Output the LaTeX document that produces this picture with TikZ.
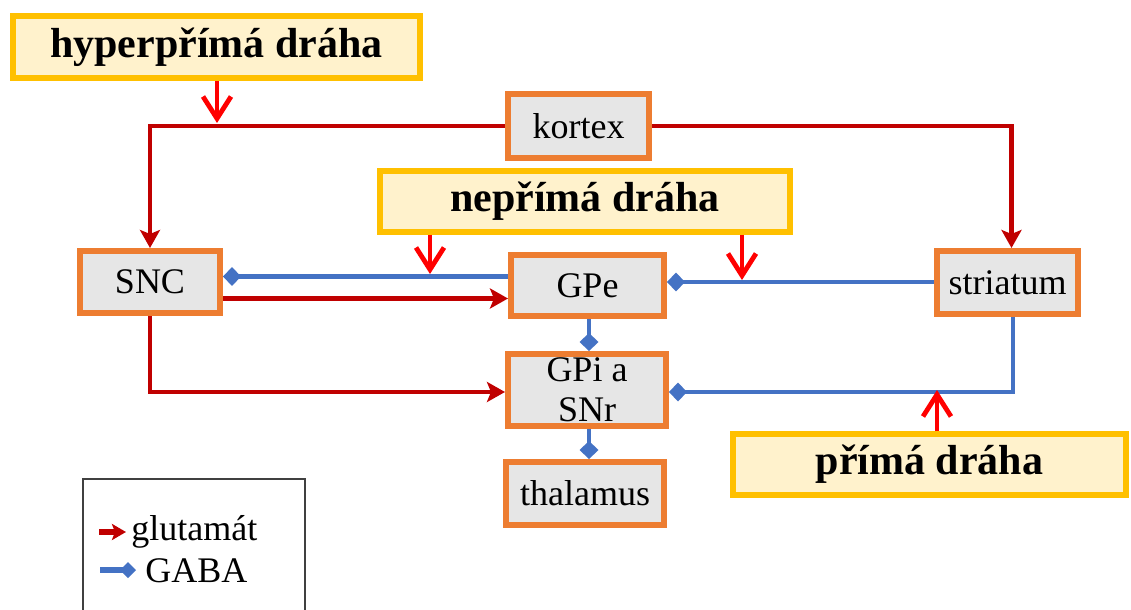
\documentclass[tikz,border=0pt]{standalone}
\usepackage{fontspec}
\setmainfont{Liberation Serif}
\usetikzlibrary{arrows.meta}
\definecolor{oranz}{HTML}{ED7D31}
\definecolor{sedy}{HTML}{E6E6E6}
\definecolor{zluty}{HTML}{FFC000}
\definecolor{krem}{HTML}{FFF2CC}
\definecolor{tmcerv}{HTML}{C00000}
\definecolor{cerv}{HTML}{FF0000}
\definecolor{modry}{HTML}{4472C4}
\newcommand{\telo}{\fontsize{18}{20}\selectfont}
\newcommand{\nadpis}{\bfseries\fontsize{21}{24}\selectfont}
\tikzset{
    oblast/.style={draw=oranz, fill=sedy, line width=3pt, inner sep=0pt, align=center, font=\telo},
    draha/.style={draw=zluty, fill=krem, line width=3pt, inner sep=0pt, font=\nadpis},
    glu/.style={draw=tmcerv, line width=2.4pt, -{Stealth[length=9pt, width=10pt, inset=2pt]}},
    gaba/.style={draw=modry, line width=2.4pt, -{Diamond[length=9pt, width=9.5pt]}},
    vliv/.style={draw=cerv, line width=2.4pt, -{Straight Barb[length=11pt, width=14pt]}}
}

\begin{document}
\begin{tikzpicture}[x=0.5pt, y=-0.5pt]
        \useasboundingbox (0,0) rectangle (1131,610);
        %\draw[help lines, step=50] (0,0) grid (1131,610);
        \node[draha, minimum width=203.5pt, minimum height=31pt] (hyper) at (216.5,47) {hyperpřímá dráha};
        \node[draha, minimum width=205pt, minimum height=30.5pt] (neprima) at (585,201.5) {nepřímá dráha};
        \node[draha, minimum width=196.5pt, minimum height=30.5pt] (prima) at (929.5,464.5) {přímá dráha};
        \node[oblast, minimum width=70.5pt, minimum height=32pt] (kortex) at (578.5,126) {kortex};
        \node[oblast, minimum width=70pt, minimum height=31pt] (SNC) at (150,282) {SNC};
        \node[oblast, minimum width=76.5pt, minimum height=30.5pt] (GPe) at (587.5,285.5) {GPe};
        \node[oblast, minimum width=70.5pt, minimum height=31.5pt] (striatum) at (1007.5,282.5) {striatum};
        \node[oblast, minimum width=79pt, minimum height=36pt] (GPi) at (587,390) {GPi a\\SNr};
        \node[oblast, minimum width=79pt, minimum height=31.5pt] (thalamus) at (585,493.5) {thalamus};

        \coordinate (h1) at (217,123);
        \coordinate (n1) at (430,274);
        \coordinate (n2) at (742,280);
        \coordinate (p1) at (937,390);

        \draw[glu] (kortex.west) -| (SNC.north);
        \draw[glu] (kortex.east) -| ([xshift=2pt]striatum.north);
        \draw[gaba] (GPe.west |- 0,276.5) -- (SNC.east |- 0,276.5);
        \draw[glu] (SNC.east |- 0,298.5) -- (GPe.west |- 0,298.5);
        \draw[gaba] (striatum.west |- 0,282) -- (GPe.east |- 0,282);
        \draw[gaba] (GPe.south -| 589,0) -- (GPi.north -| 589,0);
        \draw[glu] (SNC.south) |- (GPi.west |- 0,392);
        \draw[gaba] (striatum.south -| 1013,0) |- (GPi.east |- 0,392);
        \draw[gaba] (GPi.south -| 589,0) -- (thalamus.north -| 589,0);

        \draw[vliv] (hyper.south -| h1) -- (h1);
        \draw[vliv] (neprima.south -| n1) -- (n1);
        \draw[vliv] (neprima.south -| n2) -- (n2);
        \draw[vliv] (prima.north -| p1) -- (p1);

        \draw[draw=black!75, line width=0.9pt] (83,479) rectangle (305,620);
        \node[anchor=base west, inner sep=0pt, font=\telo] (lglu) at (131,540) {glutamát};
        \node[anchor=base west, inner sep=0pt, font=\telo] (lgaba) at (145,582) {GABA};
        \coordinate (l1) at (99,532);
        \coordinate (l2) at (100,570);
        \draw[glu, line width=2.6pt, -{Stealth[length=7pt, width=8pt, inset=1.5pt]}] (l1) -- (l1 -| 126,0);
        \draw[gaba, line width=2.6pt, -{Diamond[length=8pt, width=8pt]}] (l2) -- (l2 -| 136,0);
\end{tikzpicture}
\end{document}
